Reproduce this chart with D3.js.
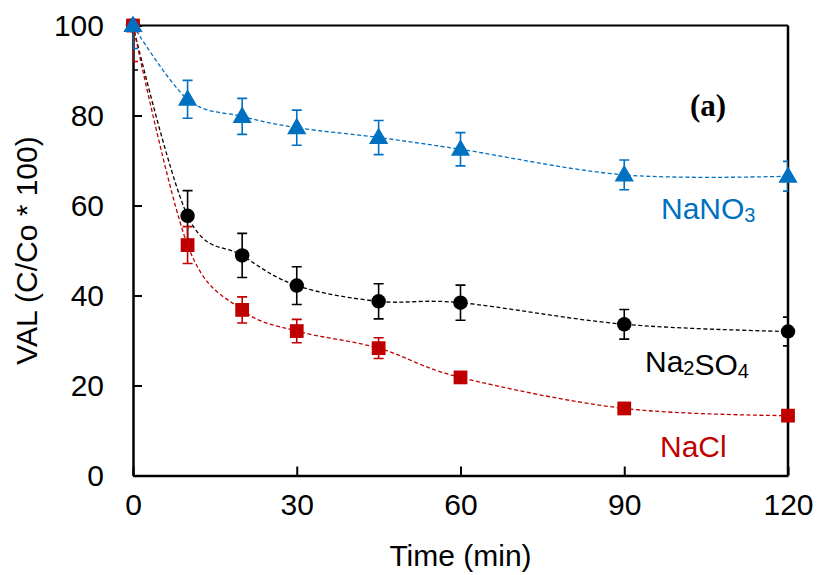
<!DOCTYPE html>
<html>
<head>
<meta charset="utf-8">
<script src="https://cdn.jsdelivr.net/npm/d3@7"></script>
<style>
  html, body { margin: 0; padding: 0; background: #fff; }
  svg { display: block; }
  text { font-family: "Liberation Sans", Arial, sans-serif; }
  text.serif { font-family: "Liberation Serif", "Times New Roman", "DejaVu Serif", serif; }
</style>
</head>
<body>
<svg id="chart" width="817" height="575"></svg>
<script>
// ---- data ----
const times = [0, 10, 20, 30, 45, 60, 90, 120];
const nacl      = [100, 51.2, 36.8, 32.1, 28.3, 21.8, 14.9, 13.3];
const naclErr   = [8.0, 4.1, 2.9, 2.6, 2.3, 1.2, 0.6, 0.5];
const na2so4    = [100, 57.7, 48.9, 42.2, 38.7, 38.4, 33.6, 32.0];
const na2so4Err = [9.9, 5.6, 4.9, 4.2, 3.9, 3.9, 3.3, 3.2];
const nano3     = [100, 83.6, 79.8, 77.3, 75.1, 72.5, 66.8, 66.5];
const nano3Err  = [5.1, 4.2, 4.0, 3.9, 3.8, 3.7, 3.3, 3.3];
const xTicks = [0, 30, 60, 90, 120];
const yTicks = [0, 20, 40, 60, 80, 100];

(function () {
const svg = d3.select("#chart");
const pL = 133, pR = 788, pT = 25.5, pB = 475.5;

const x = d3.scaleLinear().domain([0, 120]).range([pL, pR]);
const y = d3.scaleLinear().domain([0, 100]).range([pB, pT]);

svg.append("defs").append("clipPath").attr("id", "plotclip")
  .append("rect").attr("x", pL).attr("y", pT)
  .attr("width", pR - pL).attr("height", pB - pT);

// frame (top & right)
svg.append("line").attr("x1", pL).attr("x2", pR).attr("y1", pT).attr("y2", pT)
  .attr("stroke", "#000").attr("stroke-width", 2);
svg.append("line").attr("x1", pR).attr("x2", pR).attr("y1", pT).attr("y2", pB)
  .attr("stroke", "#000").attr("stroke-width", 2.5);

// axes
const xAxis = d3.axisBottom(x).tickValues(xTicks).tickSizeInner(-9).tickSizeOuter(0).tickPadding(18);
const yAxis = d3.axisLeft(y).tickValues(yTicks).tickSizeInner(-9).tickSizeOuter(0).tickPadding(29);

const gx = svg.append("g").attr("transform", `translate(0,${pB})`).call(xAxis);
const gy = svg.append("g").attr("transform", `translate(${pL},0)`).call(yAxis);
[gx, gy].forEach(g => {
  g.select(".domain").attr("stroke", "#000").attr("stroke-width", 2.5);
  g.selectAll(".tick line").attr("stroke", "#000").attr("stroke-width", 2);
  g.selectAll(".tick text").attr("font-size", 30).attr("fill", "#000");
});

// axis titles
svg.append("text").attr("x", (pL + pR) / 2).attr("y", 566)
  .attr("text-anchor", "middle").attr("font-size", 30).text("Time (min)");
svg.append("text").attr("transform", `translate(37,${(pT + pB) / 2}) rotate(-90)`)
  .attr("text-anchor", "middle").attr("font-size", 30).text("VAL (C/Co * 100)");

// series
const series = [
  { name: "Na2SO4", vals: na2so4, err: na2so4Err, color: "#000000", shape: "circle" },
  { name: "NaCl", vals: nacl, err: naclErr, color: "#C00000", shape: "square" },
  { name: "NaNO3", vals: nano3, err: nano3Err, color: "#0070C0", shape: "triangle" }
];

const line = d3.line()
  .x(d => x(d.t)).y(d => y(d.v))
  .curve(d3.curveCardinal.tension(0));

series.forEach(s => {
  const pts = times.map((t, i) => ({ t, v: s.vals[i], e: s.err[i] }));
  const g = svg.append("g");
  g.append("path").datum(pts).attr("d", line)
    .attr("fill", "none").attr("stroke", s.color).attr("stroke-width", 1.3)
    .attr("stroke-dasharray", "4,2.5");
  const eg = g.append("g").attr("clip-path", "url(#plotclip)");
  pts.forEach(p => {
    const y1 = y(p.v + p.e), y2 = y(p.v - p.e), cx = x(p.t);
    eg.append("line").attr("x1", cx).attr("x2", cx).attr("y1", y1).attr("y2", y2)
      .attr("stroke", s.color).attr("stroke-width", 1.6);
    [y1, y2].forEach(yy => eg.append("line").attr("x1", cx - 5).attr("x2", cx + 5)
      .attr("y1", yy).attr("y2", yy).attr("stroke", s.color).attr("stroke-width", 1.6));
  });
  const sym = s.shape === "circle" ? d3.symbolCircle : s.shape === "square" ? d3.symbolSquare : d3.symbolTriangle;
  const size = s.shape === "circle" ? 165 : s.shape === "square" ? 190 : 160;
  g.selectAll("path.m").data(pts).enter().append("path").attr("class", "m")
    .attr("d", d3.symbol().type(sym).size(size))
    .attr("transform", d => `translate(${x(d.t)},${y(d.v) + (s.shape === "triangle" ? 1 : 0)})`)
    .attr("fill", s.color);
});

// labels
function chemLabel(xp, yp, parts, color) {
  const t = svg.append("text").attr("x", xp).attr("y", yp).attr("font-size", 30).attr("fill", color);
  parts.forEach(p => {
    if (p.sub) {
      t.append("tspan").attr("font-size", 20).attr("dy", 3).text(p.s);
      t.append("tspan").attr("dy", -3).text("");
    } else {
      t.append("tspan").text(p.s);
    }
  });
}
chemLabel(661, 219, [{ s: "NaNO" }, { s: "3", sub: true }], "#0070C0");
chemLabel(645, 372, [{ s: "Na" }, { s: "2", sub: true }, { s: "SO" }, { s: "4", sub: true }], "#000000");
chemLabel(660, 457, [{ s: "NaCl" }], "#C00000");

svg.append("text").attr("class", "serif").attr("x", 690).attr("y", 116)
  .attr("font-weight", "bold").attr("font-size", 31).text("(a)");
})();
</script>
</body>
</html>
